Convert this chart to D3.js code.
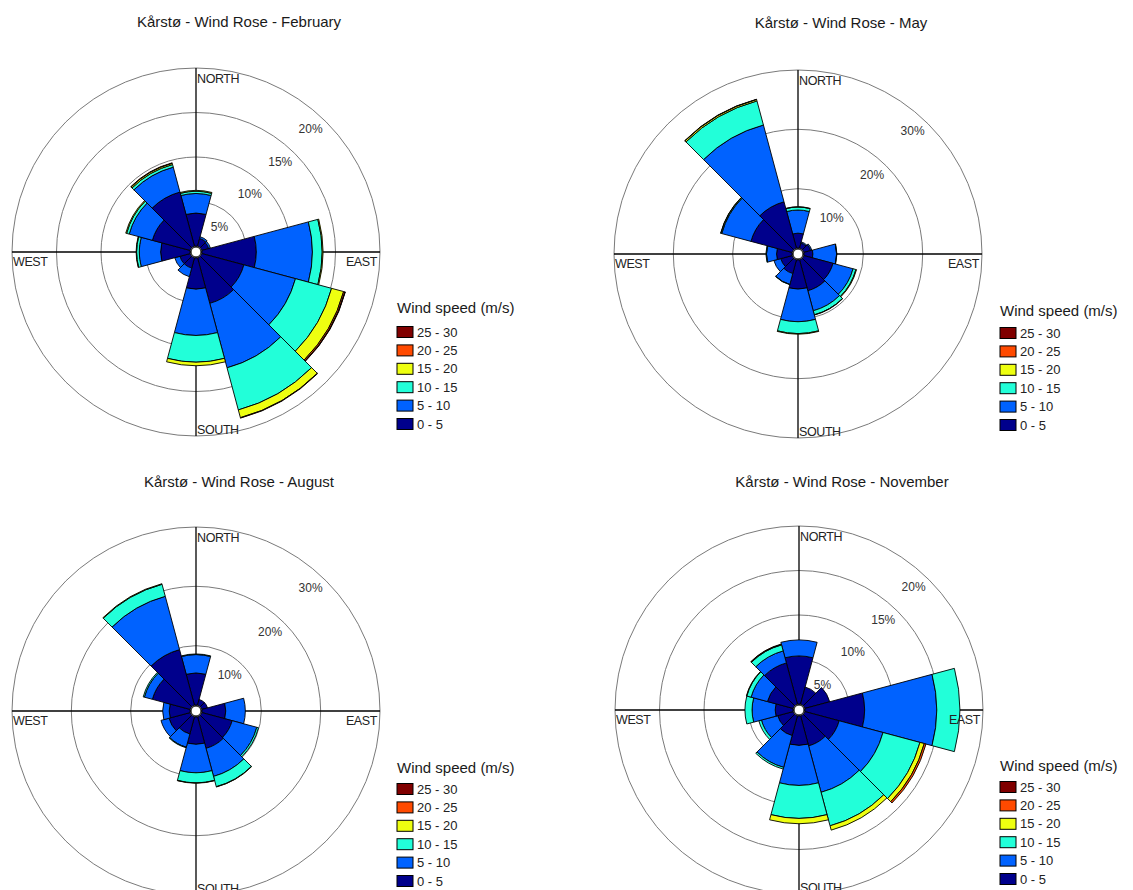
<!DOCTYPE html>
<html><head><meta charset="utf-8">
<script src="https://cdn.jsdelivr.net/npm/d3@7"></script>
<style>
body{margin:0;background:#fff;}
text{font-family:Arial,"Liberation Sans",sans-serif;}
</style>
</head><body><svg id="c" width="1133" height="890"></svg>
<script>
// ---------- data ----------
const directions = [0, 30, 60, 90, 120, 150, 180, 210, 240, 270, 300, 330];
const speedClasses = ["0 - 5", "5 - 10", "10 - 15", "15 - 20", "20 - 25", "25 - 30"];
const classColors = ["#00008c", "#0062ff", "#22ffd9", "#eeff10", "#ff4a00", "#800000"];

// February (% per direction, per speed class)
const feb0_5   = [3.7, 0.9, 0.8, 6.1, 4.9, 5.3, 3.5, 1.2, 1.2, 3.3, 4.4, 6.3];
const feb5_10  = [2.2, 0.2, 0.2, 6.3, 6.0, 7.5, 5.2, 1.0, 0.6, 2.4, 2.7, 2.9];
const feb10_15 = [0.25, 0, 0, 1.1, 4.2, 4.9, 3.0, 0, 0, 0.3, 0.3, 0.3];
const feb15_20 = [0.1, 0, 0, 0.1, 1.4, 0.9, 0.4, 0, 0, 0.05, 0.1, 0.15];
const feb20_25 = [0, 0, 0, 0, 0.15, 0.05, 0, 0, 0, 0, 0, 0.05];
const feb25_30 = [0, 0, 0, 0, 0.05, 0, 0, 0, 0, 0, 0, 0];

// May
const may0_5   = [2.5, 0.9, 1.2, 1.5, 5.1, 5.4, 4.9, 2.4, 2.0, 2.6, 7.2, 8.1];
const may5_10  = [3.9, 0.2, 0.2, 4.0, 3.5, 3.5, 5.5, 1.9, 1.2, 1.7, 5.1, 13.4];
const may10_15 = [0.5, 0, 0, 0.05, 0.5, 0.7, 2.0, 0.05, 0, 0.1, 0.15, 4.2];
const may15_20 = [0.05, 0, 0, 0, 0.1, 0.05, 0.1, 0, 0, 0, 0.05, 0.25];
const may20_25 = [0, 0, 0, 0, 0, 0, 0, 0, 0, 0, 0, 0.05];
const may25_30 = [0, 0, 0, 0, 0, 0, 0, 0, 0, 0, 0, 0];

// August
const aug0_5   = [5.4, 1.0, 1.0, 4.0, 5.3, 5.5, 4.6, 3.0, 3.7, 3.5, 6.6, 9.7];
const aug5_10  = [3.1, 0, 0, 3.3, 4.3, 4.9, 4.8, 2.3, 1.4, 1.1, 1.4, 9.3];
const aug10_15 = [0.1, 0, 0, 0, 0.3, 1.8, 1.7, 0.1, 0, 0, 0.2, 2.1];
const aug15_20 = [0, 0, 0, 0, 0, 0.05, 0.05, 0, 0, 0, 0, 0.1];
const aug20_25 = [0, 0, 0, 0, 0, 0, 0, 0, 0, 0, 0, 0];
const aug25_30 = [0, 0, 0, 0, 0, 0, 0, 0, 0, 0, 0, 0];

// November
const nov0_5   = [5.4, 2.0, 2.9, 6.7, 4.0, 3.5, 3.3, 2.3, 1.8, 2.0, 3.0, 4.8];
const nov5_10  = [1.8, 0, 0, 8.1, 5.1, 5.4, 4.5, 3.7, 1.9, 2.6, 1.9, 1.4];
const nov10_15 = [0, 0, 0, 2.6, 4.3, 3.9, 3.7, 0.2, 0.3, 0.8, 0.5, 0.7];
const nov15_20 = [0, 0, 0, 0, 0.5, 0.5, 0.6, 0, 0, 0, 0.05, 0.05];
const nov20_25 = [0, 0, 0, 0, 0.2, 0, 0, 0, 0, 0, 0, 0.05];
const nov25_30 = [0, 0, 0, 0, 0, 0, 0, 0, 0, 0, 0, 0];

const roseTitles = ["Kårstø - Wind Rose - February", "Kårstø - Wind Rose - May",
                    "Kårstø - Wind Rose - August", "Kårstø - Wind Rose - November"];
const ringTicksFebNov = [5, 10, 15, 20];
const ringTicksMayAug = [10, 20, 30];
const compassLabels = ["NORTH", "EAST", "SOUTH", "WEST"];
const legendTitle = "Wind speed (m/s)";

// ---------- layout ----------
const R = 184, R0 = 6;
const roses = [
  {title: roseTitles[0], cx: 196, cy: 252, max: 20, rings: ringTicksFebNov,
   data: [feb0_5, feb5_10, feb10_15, feb15_20, feb20_25, feb25_30], tx: 239, ty: 27, lx: 397, ly: 313, ry: 332},
  {title: roseTitles[1], cx: 798, cy: 254, max: 30, rings: ringTicksMayAug,
   data: [may0_5, may5_10, may10_15, may15_20, may20_25, may25_30], tx: 841, ty: 28, lx: 1000, ly: 316, ry: 333},
  {title: roseTitles[2], cx: 196, cy: 711, max: 30, rings: ringTicksMayAug,
   data: [aug0_5, aug5_10, aug10_15, aug15_20, aug20_25, aug25_30], tx: 239, ty: 487, lx: 397, ly: 773, ry: 789},
  {title: roseTitles[3], cx: 799, cy: 710, max: 20, rings: ringTicksFebNov,
   data: [nov0_5, nov5_10, nov10_15, nov15_20, nov20_25, nov25_30], tx: 842, ty: 487, lx: 1000, ly: 771, ry: 787}
];

const svg = d3.select("#c");
svg.append("rect").attr("width", 1133).attr("height", 890).attr("fill", "#fff");
const rad = Math.PI / 180;
const arc = d3.arc();

roses.forEach(r => {
  svg.append("text").attr("x", r.tx).attr("y", r.ty).attr("text-anchor", "middle")
    .attr("font-size", 15).attr("fill", "#1a1a1a").text(r.title);

  const g = svg.append("g").attr("transform", `translate(${r.cx},${r.cy})`);
  const rs = d3.scaleLinear().domain([0, r.max]).range([R0, R]);

  g.selectAll("circle.ring").data(r.rings).join("circle").attr("class", "ring")
    .attr("r", d => rs(d)).attr("fill", "none").attr("stroke", "#7a7a7a").attr("stroke-width", 1);

  g.append("line").attr("x1", 0).attr("x2", 0).attr("y1", -R).attr("y2", R)
    .attr("stroke", "#000").attr("stroke-width", 1.3);
  g.append("line").attr("x1", -R).attr("x2", R).attr("y1", 0).attr("y2", 0)
    .attr("stroke", "#000").attr("stroke-width", 1.3);

  // stacked bars
  const segs = [];
  directions.forEach((dir, i) => {
    let cum = 0;
    r.data.forEach((arr, k) => {
      const v = arr[i];
      if (!v) return;
      segs.push({dir, k, inner: cum, outer: cum + v});
      cum += v;
    });
  });
  g.selectAll("path.seg").data(segs).join("path").attr("class", "seg")
    .attr("d", d => arc({innerRadius: rs(d.inner), outerRadius: rs(d.outer),
                         startAngle: (d.dir - 15) * rad, endAngle: (d.dir + 15) * rad}))
    .attr("fill", d => classColors[d.k]).attr("stroke", "#000").attr("stroke-width", 0.9)
    .attr("stroke-linejoin", "miter");

  g.append("circle").attr("r", 5).attr("fill", "#fff").attr("stroke", "#000").attr("stroke-width", 1);

  // ring labels
  const a = 43 * rad;
  r.rings.forEach(v => {
    const rr = rs(v) - 16;
    g.append("text").attr("x", rr * Math.sin(a)).attr("y", -rr * Math.cos(a))
      .attr("text-anchor", "middle").attr("dominant-baseline", "central")
      .attr("font-size", 12).attr("fill", "#333").text(v + "%");
  });

  // compass labels
  const cf = 12.5;
  g.append("text").attr("x", 1).attr("y", -R + 15).attr("font-size", cf).attr("fill", "#222")
    .attr("letter-spacing", -0.4).text(compassLabels[0]);
  g.append("text").attr("x", R - 3).attr("y", 14).attr("text-anchor", "end").attr("font-size", cf)
    .attr("fill", "#222").attr("letter-spacing", -0.4).text(compassLabels[1]);
  g.append("text").attr("x", 1).attr("y", R - 2).attr("font-size", cf).attr("fill", "#222")
    .attr("letter-spacing", -0.4).text(compassLabels[2]);
  g.append("text").attr("x", -R + 1).attr("y", 14).attr("font-size", cf).attr("fill", "#222")
    .attr("letter-spacing", -0.4).text(compassLabels[3]);

  // legend
  const lg = svg.append("g");
  lg.append("text").attr("x", r.lx).attr("y", r.ly).attr("font-size", 15).attr("fill", "#1a1a1a").text(legendTitle);
  const order = d3.range(speedClasses.length).reverse();
  order.forEach((k, j) => {
    const y = r.ry + j * 18.4;
    lg.append("rect").attr("x", r.lx).attr("y", y - 5.5).attr("width", 16).attr("height", 11)
      .attr("fill", classColors[k]).attr("stroke", "#000").attr("stroke-width", 1);
    lg.append("text").attr("x", r.lx + 20).attr("y", y).attr("dominant-baseline", "central")
      .attr("font-size", 13).attr("fill", "#222").text(speedClasses[k]);
  });
});
</script>
</body></html>
